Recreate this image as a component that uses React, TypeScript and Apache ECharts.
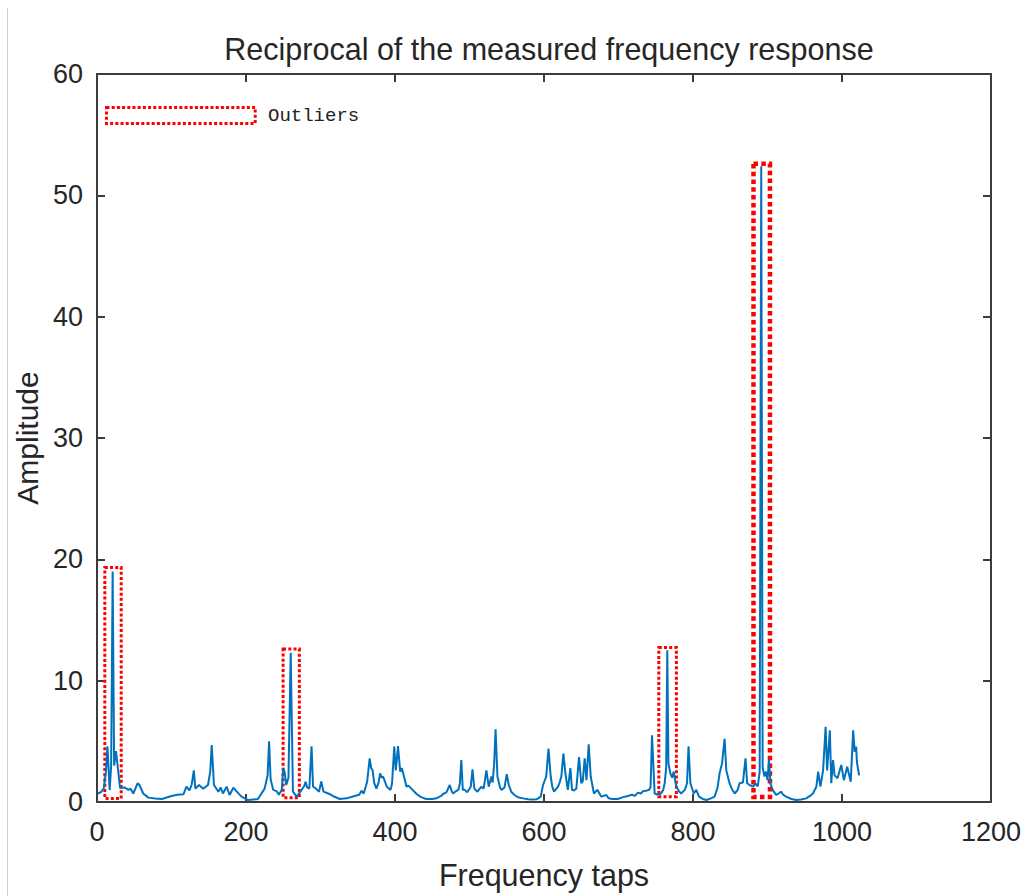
import React, { useEffect, useRef } from "react";
import * as echarts from "echarts";

const TITLE = "Reciprocal of the measured frequency response";
const X_NAME = "Frequency taps";
const Y_NAME = "Amplitude";
const LEGEND_TEXT = "Outliers";

const freqTaps = [
  1, 5, 9, 12, 14, 17, 19, 21, 23, 25.5, 28, 31, 37.5, 42, 45, 48.7, 54.6, 57, 62, 69, 78, 87, 100, 108, 116, 120, 124, 127, 130, 132,
  137, 142.6, 149, 152, 154, 157, 163, 166, 169, 174, 178, 183, 187, 194, 203, 216, 225, 229, 231, 233, 236.5, 241, 244, 248, 250, 252,
  254, 257, 260, 263, 268, 273, 278, 280, 282, 285, 288, 290, 294, 298, 301, 304, 312, 318, 326, 335, 346, 352, 355, 358, 362.6, 366,
  368, 370, 372, 375, 378, 380, 382, 384, 389, 394, 396, 399, 401, 402.5, 404, 407, 409, 411, 415.5, 418, 422, 429, 435, 442, 450, 455.6,
  462, 464.5, 469, 473.5, 476, 478, 482, 485, 487, 489, 491, 493.6, 497, 501.7, 504, 506.5, 510.6, 516, 519, 522.7, 525.8, 529.4, 531,
  533, 535, 537.5, 541, 543, 547, 550, 552.7, 556, 560, 565, 572, 578.5, 585, 590, 595.6, 598.7, 603, 606, 609, 611, 613.4, 618.8, 621,
  623.3, 626, 628.7, 632, 635.4, 637.6, 640, 643.4, 647, 650, 652, 654.6, 657, 660, 662.7, 667, 671.6, 677, 683.7, 686.8, 692, 699, 706,
  712.6, 718, 722, 726, 730, 733, 737, 741, 743, 745, 748.5, 753, 757, 760, 762, 764, 765.5, 767, 769.6, 772, 774, 777.6, 781, 784, 789,
  792, 794, 796.5, 801, 804.4, 808, 813, 818, 824, 829, 833, 835.7, 839, 842.4, 844.7, 849, 852, 856, 860, 862.5, 867, 870.5, 872.7, 876,
  880.4, 884, 887, 889.5, 891.6, 893.5, 896, 898, 900, 902, 904, 907, 911.6, 915, 918.4, 921, 925, 932, 938.6, 945, 952, 957, 961, 965.6,
  968, 971, 974.6, 978, 980, 983.7, 985.6, 988, 990, 994, 999, 1002.5, 1007, 1011.7, 1015, 1017, 1019, 1020, 1023,
];

const amplitude = [
  0.7, 0.8, 1.1, 2.5, 4.6, 1.0, 3.0, 19.0, 3.0, 4.2, 2.8, 1.15, 1.2, 1.0, 1.1, 0.7, 1.55, 1.4, 0.7, 0.36, 0.28, 0.25, 0.5, 0.6, 0.63, 1.26, 0.95, 1.4, 2.6, 1.1,
  1.4, 1.1, 1.4, 2.5, 4.7, 1.4, 0.85, 1.2, 0.7, 1.26, 0.58, 1.18, 0.9, 0.44, 0.16, 0.25, 1.1, 2.2, 5.0, 1.9, 1.0, 0.9, 0.6, 1.0, 2.8, 2.4,
  1.4, 2.0, 12.3, 0.85, 0.44, 0.85, 1.3, 1.67, 1.2, 1.1, 4.6, 1.26, 1.1, 0.85, 1.7, 0.85, 0.66, 0.45, 0.25, 0.3, 0.5, 0.6, 0.93, 0.7, 1.67, 3.6,
  2.8, 2.6, 1.6, 1.1, 1.6, 2.36, 2.0, 2.1, 1.26, 1.0, 1.5, 4.56, 2.6, 3.5, 4.6, 2.5, 2.8, 2.36, 1.26, 1.35, 1.1, 0.66, 0.4, 0.25, 0.25, 0.3,
  0.5, 0.66, 0.8, 1.4, 0.9, 0.7, 0.9, 1.0, 1.5, 3.46, 1.0, 1.0, 0.8, 1.26, 2.7, 1.1, 0.85, 1.26, 1.1, 2.6, 1.26, 2.1, 1.6,
  3.05, 6.0, 2.1, 1.2, 1.0, 1.2, 2.3, 1.4, 0.85, 0.6, 0.39, 0.3, 0.22, 0.2, 0.22, 0.44, 1.4, 2.1, 4.4, 2.1, 1.3, 0.85, 1.26, 1.6,
  2.1, 4.0, 2.36, 1.0, 2.8, 1.0, 0.95, 1.1, 3.7, 1.55, 1.7, 3.6, 1.8, 4.75, 2.1, 0.7, 1.0, 0.44, 0.58, 0.3, 0.25, 0.25, 0.4,
  0.5, 0.6, 0.5, 0.77, 0.7, 0.9, 0.93, 1.0, 1.2, 5.5, 0.7, 0.6, 0.7, 1.0, 1.55, 2.8, 12.5, 3.2, 2.36, 2.0, 2.5, 1.26, 0.9, 0.7, 1.0,
  1.55, 4.6, 1.55, 0.7, 1.0, 0.44, 0.25, 0.16, 0.3, 0.44, 1.2, 2.36, 3.2, 5.2, 2.6, 1.55, 1.1, 0.7, 1.0, 1.55, 1.6, 3.6, 1.55, 1.4,
  1.26, 1.5, 1.3, 2.5, 52.4, 2.8, 2.1, 2.5, 1.8, 3.5, 1.5, 1.0, 0.58, 0.7, 0.85, 0.6, 0.44, 0.25, 0.16, 0.2, 0.3, 0.5, 0.7, 1.26,
  2.5, 1.26, 2.6, 6.2, 2.6, 5.9, 1.55, 3.46, 2.2, 1.95, 3.05, 1.8, 2.9, 1.67, 5.9, 4.15, 4.56, 3.3, 2.2,
];

// Outlier boxes: [xStart, xEnd, yBottom, yTop]
const outlierX0 = [10.5, 249.8, 754.1, 881.2];
const outlierX1 = [32.5, 271.6, 777.7, 903.3];
const outlierY0 = [0.29, 0.35, 0.43, 0.41];
const outlierY1 = [19.33, 12.6, 12.74, 52.6];

const xTicks = { min: 0, max: 1200, interval: 200 };
const yTicks = { min: 0, max: 60, interval: 10 };

const AXIS_COLOR = "#3c3c3c";
const TEXT_COLOR = "#262626";
const FONT = "'Liberation Sans', Arial, sans-serif";

export default function App() {
  const ref = useRef<HTMLDivElement>(null);
  useEffect(() => {
    if (!ref.current) return;
    const chart = echarts.init(ref.current, null, { renderer: "svg" });
    const data = freqTaps.map((x, i) => [x, amplitude[i]]);
    const boxes = outlierX0.map((x0, i) => {
      const big = i === 3;
      const w = big ? 4.5 : 3;
      return [
        {
          xAxis: x0,
          yAxis: outlierY1[i],
          itemStyle: {
            color: "rgba(0,0,0,0)",
            borderColor: "#ff0000",
            borderWidth: w,
            borderType: big ? [4.5, 3.3] : [3, 2.2],
          },
        },
        { xAxis: outlierX1[i], yAxis: outlierY0[i] },
      ];
    });
    const axisLine = { show: true, onZero: false, lineStyle: { color: AXIS_COLOR, width: 2 } };
    const axisTick = { show: true, inside: true, length: 8, lineStyle: { color: AXIS_COLOR, width: 2 } };
    const labelStyle = {
      fontFamily: FONT,
      fontSize: 27,
      color: TEXT_COLOR,
      formatter: (v: number) => String(v),
    };
    chart.setOption({
      animation: false,
      title: {
        text: TITLE,
        left: 544,
        textAlign: "center",
        top: 28,
        textStyle: { fontFamily: FONT, fontSize: 30.5, fontWeight: "normal", color: TEXT_COLOR },
      },
      grid: { left: 97, right: 37, top: 74, bottom: 94, containLabel: false },
      xAxis: [
        {
          type: "value",
          ...xTicks,
          position: "bottom",
          name: X_NAME,
          nameLocation: "middle",
          nameGap: 57,
          nameTextStyle: { fontFamily: FONT, fontSize: 30.5, color: TEXT_COLOR },
          axisLine,
          axisTick,
          axisLabel: { ...labelStyle, margin: 16 },
          splitLine: { show: false },
        },
        {
          type: "value",
          ...xTicks,
          position: "top",
          axisLine,
          axisTick,
          axisLabel: { show: false },
          splitLine: { show: false },
        },
      ],
      yAxis: [
        {
          type: "value",
          ...yTicks,
          position: "left",
          name: Y_NAME,
          nameLocation: "middle",
          nameGap: 51,
          nameTextStyle: { fontFamily: FONT, fontSize: 30, color: TEXT_COLOR },
          axisLine,
          axisTick,
          axisLabel: { ...labelStyle, margin: 14 },
          splitLine: { show: false },
        },
        {
          type: "value",
          ...yTicks,
          position: "right",
          axisLine,
          axisTick,
          axisLabel: { show: false },
          splitLine: { show: false },
        },
      ],
      series: [
        {
          type: "line",
          data,
          showSymbol: false,
          symbol: "none",
          lineStyle: { color: "#0072BD", width: 2 },
          markArea: { silent: true, data: boxes },
        },
      ],
      graphic: [
        {
          type: "line",
          shape: { x1: 7.5, y1: 8, x2: 7.5, y2: 896 },
          style: { stroke: "#cfcfcf", lineWidth: 1 },
        },
        {
          type: "rect",
          shape: { x: 106.5, y: 107.5, width: 148.7, height: 16 },
          style: { fill: "none", stroke: "#ff0000", lineWidth: 3, lineDash: [3, 2.2] },
        },
        {
          type: "text",
          x: 268,
          y: 115.5,
          style: {
            text: LEGEND_TEXT,
            fontFamily: "'Liberation Mono', 'DejaVu Serif', monospace",
            fontSize: 19,
            fill: "#222222",
            verticalAlign: "middle",
          },
        },
      ],
    });
    return () => chart.dispose();
  }, []);
  return (
    <div
      ref={ref}
      style={{ position: "absolute", left: 0, top: 0, width: 1028, height: 896, background: "#ffffff" }}
    />
  );
}
